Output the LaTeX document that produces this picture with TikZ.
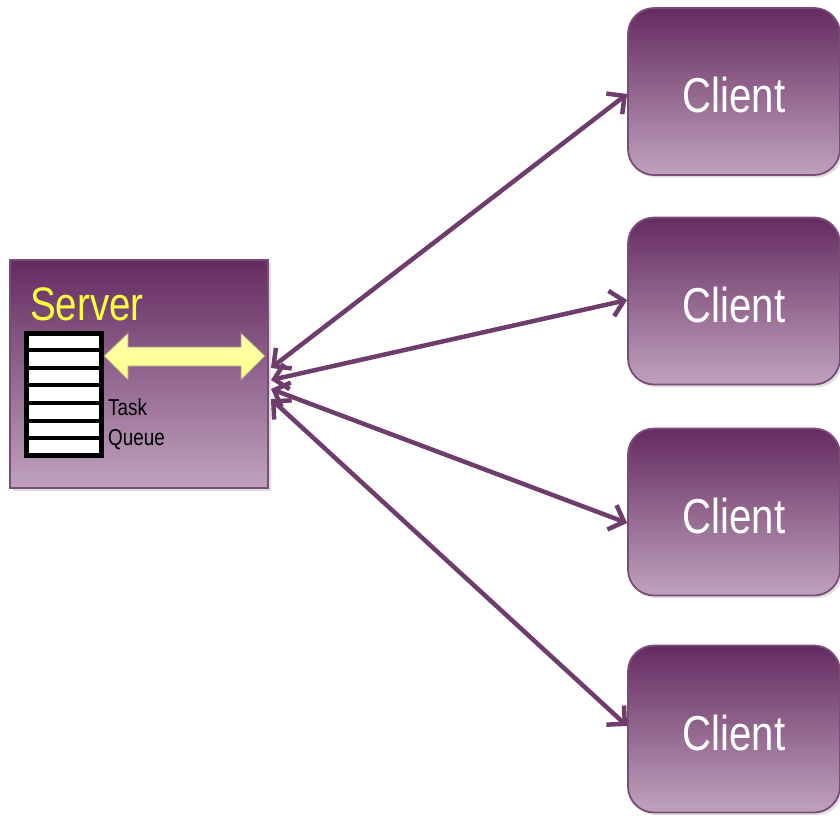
\documentclass[tikz,border=0pt]{standalone}
\usepackage{fontspec}
\setmainfont{Liberation Sans}
\newfontfamily\narrowfont[FakeStretch=0.82]{Liberation Sans}
\usepackage{tikz}
\usetikzlibrary{arrows.meta,shadows}

\definecolor{boxtop}{HTML}{652B61}
\definecolor{boxbot}{HTML}{BFA2BD}
\definecolor{boxline}{HTML}{7B4C78}
\definecolor{linkcol}{HTML}{6E3D6B}
\definecolor{qyellow}{HTML}{FFFF8A}
\definecolor{lblyellow}{HTML}{FFFF3C}
\definecolor{qedge}{HTML}{A89A80}

\begin{document}
\begin{tikzpicture}[x=1pt,y=-1pt]
\tikzstyle{server}=[rectangle, draw=boxline, line width=1.8pt, top color=boxtop, bottom color=boxbot, minimum width=258pt, minimum height=228pt, inner sep=0pt, drop shadow={opacity=0.25}]
\tikzstyle{client}=[rectangle, rounded corners=26pt, draw=boxline, line width=1.8pt, top color=boxtop, bottom color=boxbot, minimum width=212pt, minimum height=167pt, text=white, text height=42pt, text depth=0pt, font=\narrowfont\fontsize{49}{49}\selectfont, drop shadow={opacity=0.25}]
\tikzstyle{link}=[draw=linkcol, line width=4.5pt, {Straight Barb[length=13pt,width=26pt,line width=4.5pt]}-{Straight Barb[length=13pt,width=26pt,line width=4.5pt]}]
\tikzstyle{small}=[anchor=base west, inner sep=0pt, font=\narrowfont\fontsize{23}{23}\selectfont]

\useasboundingbox (0,0) rectangle (840,815);

\node (srv) at (139,374) [server] {};
\node (lbl) at (30,320) [anchor=base west, inner sep=0pt, text=lblyellow, font=\narrowfont\fontsize{47}{47}\selectfont] {Server};

% task queue
\draw[line width=5pt, fill=white] (26,333) rectangle (101,455);
\draw[line width=4.5pt] (26,350) -- (101,350) (26,368) -- (101,368) (26,385) -- (101,385) (26,403) -- (101,403) (26,421) -- (101,421) (26,438) -- (101,438);
\node (task) at (108,415) [small] {Task};
\node (queue) at (108,445) [small] {Queue};

% yellow double arrow
\draw[draw=qedge, line width=0.8pt, top color=qyellow!70!white, bottom color=qyellow] (104,356) -- (128,333) -- (128,347) -- (241,347) -- (241,333) -- (265,356) -- (241,380) -- (241,366) -- (128,366) -- (128,380) -- cycle;

\node (c1) at (734,91.5) [client] {Client};
\node (c2) at (734,301) [client] {Client};
\node (c3) at (734,512) [client] {Client};
\node (c4) at (734,729) [client] {Client};

\coordinate (s1) at (271,368);
\coordinate (s2) at (271,380);
\coordinate (s3) at (271,389);
\coordinate (s4) at (271,399);

\draw[link] (s1) -- (c1.west |- 0,94);
\draw[link] (s2) -- (c2.west |- 0,300);
\draw[link] (s3) -- (c3.west |- 0,523);
\draw[link] (s4) -- (c4.west |- 0,726);
\end{tikzpicture}
\end{document}
